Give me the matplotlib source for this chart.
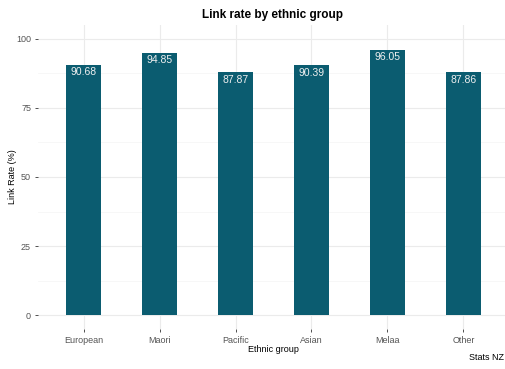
import matplotlib.pyplot as plt
import numpy as np

plt.rcParams["font.family"] = ["Liberation Sans", "DejaVu Sans"]

groups = ["European", "Maori", "Pacific", "Asian", "Melaa", "Other"]
link_rate = [90.68, 94.85, 87.87, 90.39, 96.05, 87.86]
y_ticks = [0, 25, 50, 75, 100]

W, H = 506, 369
BAR_COLOR = "#0b5c70"

fig = plt.figure(figsize=(W / 100, H / 100), dpi=100)
# panel spans roughly x 38..509, y 25..329 px
ax = fig.add_axes([38 / W, 1 - 329 / H, 471 / W, 304 / H])

x = np.arange(1, len(groups) + 1)
ax.bar(x, link_rate, width=0.46, color=BAR_COLOR, zorder=2)

for xi, v in zip(x, link_rate):
    ax.text(xi, v - 0.8, f"{v:.2f}", ha="center", va="top", color="#f0f0f0",
            fontsize=7.5, zorder=3,
            bbox=dict(boxstyle="square,pad=0.15", fc=BAR_COLOR, ec="none"))

ax.set_xlim(0.4, len(groups) + 0.6)
ax.set_ylim(-5, 105)
ax.set_xticks(x)
ax.set_xticklabels(groups)
ax.set_yticks(y_ticks)
ax.set_yticks([12.5, 37.5, 62.5, 87.5], minor=True)

ax.grid(True, which="major", color="#ebebeb", linewidth=0.8, zorder=0)
ax.grid(True, which="minor", axis="y", color="#f4f4f4", linewidth=0.5, zorder=0)
ax.set_axisbelow(True)
for s in ax.spines.values():
    s.set_visible(False)
ax.tick_params(axis="both", which="major", length=2.5, width=0.6, color="#333333",
               labelsize=6.5, labelcolor="#555555", pad=2.5)
ax.tick_params(axis="y", which="minor", length=0)

ax.set_xlabel("Ethnic group", fontsize=6.5, labelpad=0)
ax.set_ylabel("Link Rate (%)", fontsize=6.5)
ax.yaxis.set_label_coords((17 - 38) / 471, 0.5)

fig.text(272 / W, 1 - 15 / H, "Link rate by ethnic group", ha="center", va="center",
         fontsize=8.5, fontweight="bold")
fig.text(504 / W, 1 - 358 / H, "Stats NZ", ha="right", va="center", fontsize=6.5)

fig.savefig("out.png", dpi=100)
